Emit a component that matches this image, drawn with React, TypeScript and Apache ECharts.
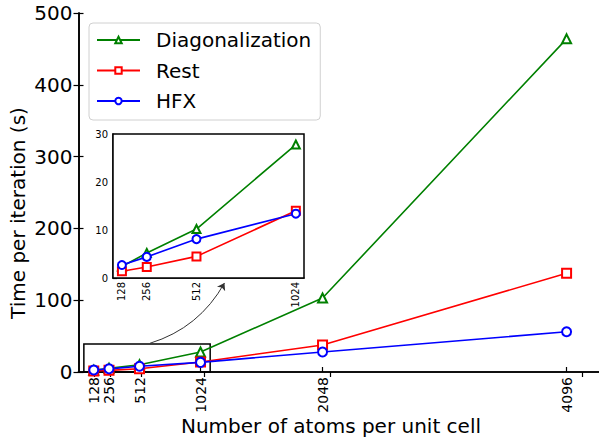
import React, { useEffect, useRef } from "react";
import * as echarts from "echarts";

const atoms = [128, 256, 512, 1024, 2048, 4096];
const insetAtoms = [128, 256, 512, 1024];
const diag = [2.4, 5.2, 10.2, 27.8, 103, 464];
const rest = [1.4, 2.3, 4.5, 14.0, 37.5, 137.5];
const hfx = [2.7, 4.4, 8.1, 13.4, 27.9, 56];
const zoomBox = [[45, 0], [1105, 39]];
const arrowPath = [[600, 40], [1225, 124]];

const FONT = "DejaVu Sans";

export default function App() {
  const ref = useRef<HTMLDivElement>(null);
  useEffect(() => {
    const chart = echarts.init(ref.current!, null, { renderer: "svg" });
    const mk = (vals: number[], n: number) => atoms.slice(0, n).map((a, i) => [a, vals[i]]);
    const fmt = (v: number) => String(v);
    const styles = [
      { name: "Diagonalization", color: "#008000", symbol: "emptyTriangle", data: diag },
      { name: "Rest", color: "#ff0000", symbol: "emptyRect", data: rest },
      { name: "HFX", color: "#0000ff", symbol: "emptyCircle", data: hfx },
    ];
    const axisLine = { show: true, lineStyle: { color: "#000", width: 1.6 } };
    const tick = { show: true, inside: true, length: 5, lineStyle: { color: "#000", width: 1.2 } };
    const mainSeries: any[] = styles.map((s) => ({
      type: "line",
      name: s.name,
      xAxisIndex: 0,
      yAxisIndex: 0,
      data: mk(s.data, 6),
      symbol: s.symbol,
      symbolSize: 9,
      color: s.color,
      lineStyle: { width: 1.6, color: s.color },
      itemStyle: { color: s.color, borderWidth: 1.2 },
      z: 3,
    }));
    const insetSeries: any[] = styles.map((s) => ({
      type: "line",
      name: s.name,
      xAxisIndex: 2,
      yAxisIndex: 2,
      data: mk(s.data, 4),
      symbol: s.symbol,
      symbolSize: 8,
      color: s.color,
      lineStyle: { width: 1.6, color: s.color },
      itemStyle: { color: s.color, borderWidth: 1.2 },
      z: 5,
    }));
    mainSeries[0].markArea = {
      silent: true,
      itemStyle: { color: "rgba(0,0,0,0)", borderColor: "#000", borderWidth: 1.5 },
      data: [[{ coord: zoomBox[0] }, { coord: zoomBox[1] }]],
    };
    const arrowSeries = {
      type: "lines",
      coordinateSystem: "cartesian2d",
      xAxisIndex: 0,
      yAxisIndex: 0,
      silent: true,
      symbol: ["none", "arrow"],
      symbolSize: 7,
      lineStyle: { color: "#333", width: 1, curveness: -0.2, opacity: 1 },
      data: [{ coords: arrowPath }],
      z: 4,
    };
    chart.setOption({
      animation: false,
      textStyle: { fontFamily: FONT },
      grid: [
        { left: 78.5, top: 13, right: -2, bottom: 70 },
        {
          left: 113, top: 134, width: 191, height: 144,
          show: true, backgroundColor: "#fff", borderColor: "#000", borderWidth: 1.5, z: 2,
        },
      ],
      xAxis: [
        {
          type: "value", gridIndex: 0, min: 0, max: 4368, position: "bottom",
          axisLine, axisTick: { ...tick, customValues: atoms },
          axisLabel: { customValues: atoms, formatter: fmt, rotate: 90, fontSize: 14, color: "#000", margin: 5, fontFamily: FONT },
          splitLine: { show: false },
        },
        {
          type: "value", gridIndex: 0, min: 0, max: 4231, position: "top",
          axisLine, axisTick: { ...tick, customValues: atoms },
          axisLabel: { show: false }, splitLine: { show: false },
        },
        {
          type: "value", gridIndex: 1, min: 82, max: 1066, position: "bottom",
          axisLine: { show: true, lineStyle: { color: "#000", width: 1.5 } },
          axisTick: { ...tick, length: 4, customValues: insetAtoms },
          axisLabel: { customValues: insetAtoms, formatter: fmt, rotate: 90, fontSize: 10, color: "#000", margin: 4, fontFamily: FONT },
          splitLine: { show: false },
        },
      ],
      yAxis: [
        {
          type: "value", gridIndex: 0, min: 0, max: 500, interval: 100, position: "left",
          axisLine, axisTick: tick,
          axisLabel: { fontSize: 20, color: "#000", margin: 6, fontFamily: FONT },
          splitLine: { show: false },
        },
        {
          type: "value", gridIndex: 0, min: 0, max: 500, interval: 100, position: "right",
          axisLine, axisTick: tick, axisLabel: { show: false }, splitLine: { show: false },
        },
        {
          type: "value", gridIndex: 1, min: 0, max: 30, interval: 10, position: "left",
          axisLine: { show: true, lineStyle: { color: "#000", width: 1.5 } },
          axisTick: { ...tick, length: 4 },
          axisLabel: { fontSize: 10, color: "#000", margin: 5, fontFamily: FONT },
          splitLine: { show: false },
        },
      ],
      legend: {
        data: styles.map((s) => s.name),
        orient: "vertical",
        left: 89,
        top: 23,
        itemWidth: 43,
        itemHeight: 8,
        itemGap: 10.5,
        padding: [7, 9, 9, 7],
        backgroundColor: "#fff",
        borderColor: "#d0d0d0",
        borderWidth: 1,
        borderRadius: 4,
        textStyle: { fontSize: 20, color: "#000", fontFamily: FONT, padding: [0, 0, 0, 11] },
        z: 6,
      },
      graphic: [
        {
          type: "text", x: 331, y: 426,
          style: { text: "Number of atoms per unit cell", fontSize: 20, fontFamily: FONT, fill: "#000", align: "center", verticalAlign: "middle" },
        },
        {
          type: "text", x: 18, y: 213, rotation: Math.PI / 2,
          style: { text: "Time per iteration (s)", fontSize: 20, fontFamily: FONT, fill: "#000", align: "center", verticalAlign: "middle" },
        },
      ],
      series: [...mainSeries, arrowSeries, ...insetSeries],
    });
    return () => chart.dispose();
  }, []);
  return <div ref={ref} style={{ width: 599, height: 442, position: "absolute", left: 0, top: 0 }} />;
}
